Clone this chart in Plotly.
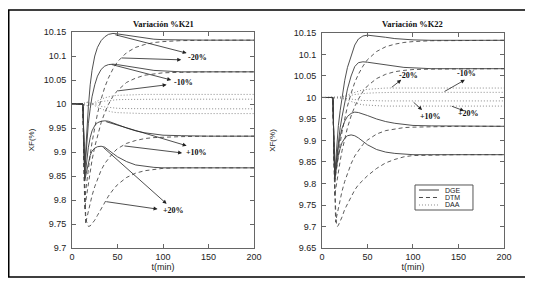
import plotly.graph_objects as go

# ---------------- data ----------------
T = [0, 12, 13, 14, 15, 16, 17, 18, 20, 22, 25, 28, 32, 36, 40, 45, 50, 60, 70, 80, 90, 100, 120, 150, 200]

# Left panel: Variación %K21
DGE_L_m20 = [10, 10, 9.93, 9.86, 9.9, 9.94, 9.97, 9.995, 10.04, 10.07, 10.1, 10.118, 10.132, 10.14, 10.145, 10.147, 10.146, 10.143, 10.14, 10.137, 10.135, 10.134, 10.133, 10.133, 10.133]
DGE_L_m10 = [10, 10, 9.93, 9.855, 9.885, 9.915, 9.94, 9.96, 9.99, 10.015, 10.04, 10.058, 10.072, 10.079, 10.082, 10.083, 10.082, 10.079, 10.075, 10.072, 10.07, 10.069, 10.067, 10.067, 10.067]
DGE_L_p10 = [10, 10, 9.92, 9.845, 9.86, 9.88, 9.895, 9.91, 9.93, 9.944, 9.955, 9.961, 9.964, 9.965, 9.964, 9.961, 9.957, 9.95, 9.944, 9.94, 9.937, 9.935, 9.934, 9.933, 9.933]
DGE_L_p20 = [10, 10, 9.92, 9.84, 9.85, 9.86, 9.87, 9.88, 9.893, 9.902, 9.908, 9.911, 9.912, 9.91, 9.905, 9.897, 9.89, 9.88, 9.873, 9.87, 9.868, 9.867, 9.867, 9.867, 9.867]

DTM_L_m20 = [10, 10, 9.9, 9.80, 9.818, 9.835, 9.851, 9.867, 9.894, 9.92, 9.952, 9.98, 10.01, 10.035, 10.054, 10.073, 10.088, 10.107, 10.118, 10.124, 10.128, 10.13, 10.132, 10.133, 10.133]
DTM_L_m10 = [10, 10, 9.89, 9.78, 9.796, 9.81, 9.824, 9.837, 9.861, 9.883, 9.911, 9.935, 9.961, 9.982, 9.999, 10.016, 10.028, 10.045, 10.054, 10.06, 10.063, 10.065, 10.066, 10.067, 10.067]
DTM_L_p10 = [10, 10, 9.88, 9.8, 9.75, 9.76, 9.769, 9.778, 9.794, 9.809, 9.828, 9.844, 9.862, 9.876, 9.887, 9.898, 9.907, 9.918, 9.924, 9.928, 9.93, 9.931, 9.932, 9.933, 9.933]
DTM_L_p20 = [10, 10, 9.9, 9.81, 9.77, 9.755, 9.748, 9.745, 9.746, 9.75, 9.758, 9.768, 9.782, 9.796, 9.808, 9.821, 9.832, 9.847, 9.856, 9.861, 9.864, 9.866, 9.867, 9.867, 9.867]

DAA_L_m20 = [10, 10, 9.999, 9.998, 9.997, 9.996, 9.996, 9.997, 9.999, 10.001, 10.004, 10.007, 10.01, 10.013, 10.015, 10.017, 10.018, 10.019, 10.02, 10.02, 10.02, 10.02, 10.02, 10.02, 10.02]
DAA_L_m10 = [10, 10, 9.999, 9.998, 9.997, 9.997, 9.997, 9.997, 9.998, 9.999, 10.001, 10.003, 10.005, 10.006, 10.007, 10.008, 10.009, 10.0095, 10.01, 10.01, 10.01, 10.01, 10.01, 10.01, 10.01]
DAA_L_p10 = [10, 10, 10.001, 10.002, 10.003, 10.003, 10.003, 10.003, 10.002, 10.001, 9.999, 9.997, 9.995, 9.994, 9.993, 9.992, 9.991, 9.9905, 9.99, 9.99, 9.99, 9.99, 9.99, 9.99, 9.99]
DAA_L_p20 = [10, 10, 10.001, 10.002, 10.003, 10.004, 10.004, 10.003, 10.001, 9.999, 9.996, 9.993, 9.99, 9.987, 9.985, 9.983, 9.982, 9.981, 9.98, 9.98, 9.98, 9.98, 9.98, 9.98, 9.98]

# Right panel: Variación %K22
DGE_R_m20 = [10, 10, 9.9, 9.82, 9.85, 9.88, 9.91, 9.935, 9.97, 10.0, 10.04, 10.07, 10.099, 10.122, 10.136, 10.143, 10.145, 10.143, 10.14, 10.137, 10.135, 10.134, 10.133, 10.133, 10.133]
DGE_R_m10 = [10, 10, 9.9, 9.82, 9.84, 9.86, 9.88, 9.9, 9.93, 9.955, 9.99, 10.02, 10.05, 10.072, 10.081, 10.083, 10.082, 10.079, 10.075, 10.072, 10.07, 10.069, 10.067, 10.067, 10.067]
DGE_R_p10 = [10, 10, 9.9, 9.81, 9.83, 9.85, 9.87, 9.885, 9.91, 9.928, 9.945, 9.956, 9.963, 9.966, 9.965, 9.962, 9.958, 9.95, 9.944, 9.94, 9.937, 9.935, 9.934, 9.933, 9.933]
DGE_R_p20 = [10, 10, 9.9, 9.81, 9.825, 9.84, 9.855, 9.865, 9.882, 9.895, 9.905, 9.911, 9.913, 9.911, 9.906, 9.898, 9.89, 9.879, 9.873, 9.87, 9.868, 9.867, 9.867, 9.867, 9.867]

DTM_R_m20 = [10, 10, 9.9, 9.80, 9.818, 9.835, 9.851, 9.867, 9.894, 9.92, 9.952, 9.98, 10.01, 10.035, 10.054, 10.073, 10.088, 10.107, 10.118, 10.124, 10.128, 10.13, 10.132, 10.133, 10.133]
DTM_R_m10 = [10, 10, 9.88, 9.77, 9.786, 9.801, 9.815, 9.829, 9.853, 9.876, 9.905, 9.93, 9.957, 9.979, 9.996, 10.014, 10.027, 10.044, 10.054, 10.06, 10.063, 10.065, 10.066, 10.067, 10.067]
DTM_R_p10 = [10, 10, 9.87, 9.77, 9.71, 9.722, 9.733, 9.744, 9.764, 9.782, 9.805, 9.825, 9.846, 9.864, 9.877, 9.891, 9.901, 9.915, 9.923, 9.927, 9.93, 9.931, 9.932, 9.933, 9.933]
DTM_R_p20 = [10, 10, 9.88, 9.79, 9.74, 9.705, 9.70, 9.703, 9.712, 9.722, 9.74, 9.752, 9.77, 9.785, 9.797, 9.808, 9.818, 9.835, 9.848, 9.856, 9.862, 9.865, 9.866, 9.867, 9.867]

DAA_R_m20 = [10, 10, 10, 10, 10, 10, 10, 10.0005, 10.001, 10.002, 10.004, 10.007, 10.01, 10.013, 10.015, 10.018, 10.019, 10.021, 10.022, 10.022, 10.022, 10.022, 10.022, 10.022, 10.022]
DAA_R_m10 = [10, 10, 10, 10, 10, 10, 10, 10, 10.001, 10.001, 10.002, 10.004, 10.005, 10.007, 10.008, 10.009, 10.01, 10.011, 10.012, 10.012, 10.012, 10.012, 10.012, 10.012, 10.012]
DAA_R_p10 = [10, 10, 10, 10, 10, 10, 10, 10, 9.999, 9.999, 9.998, 9.997, 9.996, 9.995, 9.994, 9.993, 9.993, 9.992, 9.992, 9.992, 9.992, 9.992, 9.992, 9.992, 9.992]
DAA_R_p20 = [10, 10, 10, 10, 10, 10, 10, 9.9995, 9.999, 9.998, 9.996, 9.993, 9.99, 9.987, 9.985, 9.983, 9.982, 9.981, 9.98, 9.98, 9.98, 9.98, 9.98, 9.98, 9.98]

X_TICKS = [0, 50, 100, 150, 200]
Y_TICKS_L = [9.7, 9.75, 9.8, 9.85, 9.9, 9.95, 10, 10.05, 10.1, 10.15]
Y_TEXT_L = ["9.7", "9.75", "9.8", "9.85", "9.9", "9.95", "10", "10.05", "10.1", "10.15"]
Y_TICKS_R = [9.65, 9.7, 9.75, 9.8, 9.85, 9.9, 9.95, 10, 10.05, 10.1, 10.15]
Y_TEXT_R = ["9.65", "9.7", "9.75", "9.8", "9.85", "9.9", "9.95", "10", "10.05", "10.1", "10.15"]

TITLES = ["Variación %K21", "Variación %K22"]
MODELS = ["DGE", "DTM", "DAA"]

# arrows: (tail t, tail XF, head t, head XF)
ARROWS_L = [(46, 10.145, 126, 10.106), (53, 10.096, 120, 10.092),
            (42, 10.083, 109, 10.05), (49, 10.027, 104, 10.04),
            (36, 9.964, 126, 9.913), (56, 9.913, 121, 9.898),
            (33, 9.912, 104, 9.792), (36, 9.797, 94, 9.781)]
LABELS_L = [("-20%", 138, 10.096), ("-10%", 122, 10.044), ("+10%", 137, 9.90), ("+20%", 112, 9.779)]
ARROWS_R = [(75, 10.021, 87, 10.041), (133, 10.012, 157, 10.041),
            (99, 9.992, 110, 9.971), (141, 9.981, 156, 9.969)]
LABELS_R = [("-20%", 95, 10.052), ("-10%", 159, 10.055), ("+10%", 119, 9.955), ("+20%", 161, 9.962)]

# ---------------- figure ----------------
STYLE = {"DGE": dict(color="#3c3c3c", dash="solid", width=0.9),
         "DTM": dict(color="#4a4a4a", dash="4px,3px", width=0.9),
         "DAA": dict(color="#8a8a8a", dash="1px,2px", width=1)}

fig = go.Figure()
panels = [
    ("x", "y", {"DGE": [DGE_L_m20, DGE_L_m10, DGE_L_p10, DGE_L_p20],
                "DTM": [DTM_L_m20, DTM_L_m10, DTM_L_p10, DTM_L_p20],
                "DAA": [DAA_L_m20, DAA_L_m10, DAA_L_p10, DAA_L_p20]}),
    ("x2", "y2", {"DGE": [DGE_R_m20, DGE_R_m10, DGE_R_p10, DGE_R_p20],
                  "DTM": [DTM_R_m20, DTM_R_m10, DTM_R_p10, DTM_R_p20],
                  "DAA": [DAA_R_m20, DAA_R_m10, DAA_R_p10, DAA_R_p20]}),
]
for xa, ya, fam in panels:
    for model in ["DAA", "DTM", "DGE"]:
        for ys in fam[model]:
            fig.add_trace(go.Scatter(x=T, y=ys, mode="lines", line=STYLE[model],
                                     xaxis=xa, yaxis=ya, showlegend=False,
                                     name=model, hoverinfo="skip"))

SANS = "Liberation Sans, Arial, sans-serif"
SERIF = "Liberation Serif, Times New Roman, serif"
tickfont = dict(family=SANS, size=9, color="#222222")
titlefont = dict(family=SANS, size=9, color="#222222")
axcommon = dict(showline=True, linecolor="#666666", linewidth=1, mirror="ticks",
                ticks="inside", ticklen=4, tickcolor="#666666", tickwidth=1,
                showgrid=False, zeroline=False, tickfont=tickfont, automargin=False)

annotations = []
for i, xa in enumerate(["x", "x2"]):
    annotations.append(dict(text=TITLES[i], xref=xa + " domain", yref="paper", x=0.5, y=1.037,
                            showarrow=False, xanchor="center", yanchor="middle",
                            font=dict(family=SERIF, size=8.5, color="#111111", weight="bold")))
for (arrows, labels, xa, ya) in [(ARROWS_L, LABELS_L, "x", "y"), (ARROWS_R, LABELS_R, "x2", "y2")]:
    for (t0, v0, t1, v1) in arrows:
        annotations.append(dict(text="", x=t1, y=v1, ax=t0, ay=v0, xref=xa, yref=ya,
                                axref=xa, ayref=ya, showarrow=True, arrowhead=2,
                                arrowsize=1, arrowwidth=0.8, arrowcolor="#222222", standoff=0))
    for (txt, t, v) in labels:
        annotations.append(dict(text=txt, x=t, y=v, xref=xa, yref=ya, showarrow=False,
                                xanchor="center", yanchor="middle",
                                font=dict(family=SERIF, size=8, color="#111111", weight="bold")))

# outer frame + legend box (paper coordinates)
shapes = [dict(type="rect", xref="paper", yref="paper", x0=-0.1464, x1=1.0556, y0=-0.1343, y1=1.1019,
               line=dict(color="black", width=1.5), layer="above")]
shapes.append(dict(type="rect", xref="paper", yref="paper", x0=0.794, x1=0.9282, y0=0.1759, y1=0.2917,
                   line=dict(color="#555555", width=1), fillcolor="white", layer="above"))
leg_rows = [0.2685, 0.2338, 0.1991]
for model, yy in zip(MODELS, leg_rows):
    st = STYLE[model]
    shapes.append(dict(type="line", xref="paper", yref="paper", x0=0.8032, x1=0.8495, y0=yy, y1=yy,
                       line=dict(color=st["color"], dash=st["dash"], width=1), layer="above"))
    annotations.append(dict(text=model, xref="paper", yref="paper", x=0.8588, y=yy, showarrow=False,
                            xanchor="left", yanchor="middle",
                            font=dict(family=SANS, size=7, color="#222222")))

# the page body adds an 8px margin: size the figure so it fits the window without overflow
fig.update_layout(
    template="none",
    width=517, height=272, margin=dict(l=64, r=21, t=24, b=32, pad=0),
    paper_bgcolor="white", plot_bgcolor="white", showlegend=False,
    font=dict(family=SANS, size=9, color="#222222"),
    xaxis=dict(domain=[0, 0.4213], range=[0, 200], tickvals=X_TICKS, anchor="y",
               title=dict(text="t(min)", font=titlefont, standoff=2), **axcommon),
    yaxis=dict(domain=[0, 1], range=[9.7, 10.15], tickvals=Y_TICKS_L, ticktext=Y_TEXT_L, anchor="x",
               title=dict(text="XF(%)", font=dict(family=SANS, size=8, color="#222222"), standoff=7),
               ticklabelstandoff=3, **axcommon),
    xaxis2=dict(domain=[0.5787, 1], range=[0, 200], tickvals=X_TICKS, anchor="y2",
                title=dict(text="t(min)", font=titlefont, standoff=2), **axcommon),
    yaxis2=dict(domain=[0, 0.9954], range=[9.65, 10.15], tickvals=Y_TICKS_R, ticktext=Y_TEXT_R, anchor="x2",
                title=dict(text="XF(%)", font=dict(family=SANS, size=8, color="#222222"), standoff=16),
                ticklabelstandoff=3, **axcommon),
    annotations=annotations, shapes=shapes,
)

fig.write_html("out.html")
